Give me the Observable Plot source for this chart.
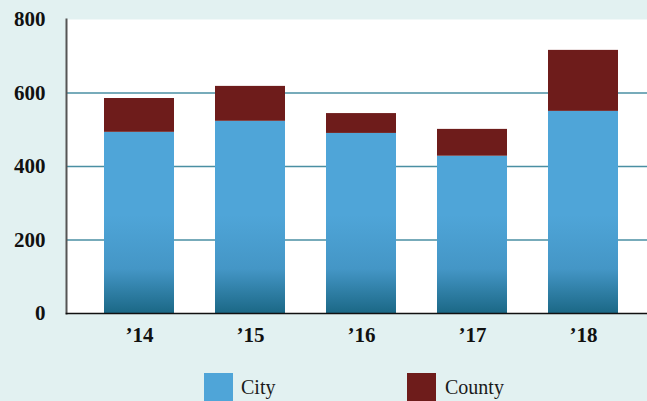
<!DOCTYPE html>
<html>
<head>
<meta charset="utf-8">
<script src="https://cdn.jsdelivr.net/npm/d3@7"></script>
<script src="https://cdn.jsdelivr.net/npm/@observablehq/plot@0.6"></script>
<style>
  html, body { margin: 0; padding: 0; background: #e2f1f1; }
  #wrap { position: relative; width: 647px; height: 401px; overflow: hidden; background: #e2f1f1; }
  #legend { position: absolute; left: 0; top: 373px; width: 647px; height: 30px;
            font-family: "Liberation Serif", serif; font-size: 20px; color: #1a1a1a; }
  .sw { position: absolute; top: 0; width: 29px; height: 29px; }
  .lb { position: absolute; top: 3px; line-height: 22px; }
</style>
</head>
<body>
<div id="wrap"></div>
<script>
const years = ["\u201914", "\u201915", "\u201916", "\u201917", "\u201918"];
const city = [493, 523, 490, 428, 550];
const county = [92, 95, 54, 73, 166];
const seriesNames = ["City", "County"];
const seriesColors = ["url(#cityGrad)", "#6e1c1b"];
const legendColors = ["#4fa5d8", "#6e1c1b"];
const yTicks = [0, 200, 400, 600, 800];

const rows = [];
years.forEach((yr, i) => {
  rows.push({year: yr, series: "City", value: city[i]});
  rows.push({year: yr, series: "County", value: county[i]});
});

const chart = Plot.plot({
  width: 647,
  height: 365,
  marginLeft: 66,
  marginRight: 0,
  marginTop: 19,
  marginBottom: 52,
  style: {fontFamily: "Liberation Serif, serif", fontSize: "21px", background: "transparent", color: "#111"},
  x: {domain: years, range: [66, 656], paddingInner: 0.372, paddingOuter: 0.33},
  y: {domain: [0, 800]},
  color: {domain: seriesNames, range: seriesColors},
  marks: [
    Plot.frame({fill: "white", stroke: null}),
    Plot.ruleY(yTicks.filter(d => d > 0 && d < 800), {stroke: "#4a8fa3", strokeWidth: 1.6}),
    Plot.barY(rows, {x: "year", y: "value", fill: "series", order: seriesNames}),
    Plot.frame({anchor: "left", stroke: "#555", strokeWidth: 2}),
    Plot.frame({anchor: "bottom", stroke: "#111", strokeWidth: 1.6}),
    Plot.axisY({ticks: yTicks, tickSize: 0, tickPadding: 21, label: null, fontWeight: "bold", fill: "#111"}),
    Plot.axisX({tickSize: 0, tickPadding: 14, label: null, fontWeight: "bold", fill: "#111"})
  ]
});

const svg = d3.select(chart.tagName.toLowerCase() === "svg" ? chart : chart.querySelector("svg"));
const grad = svg.insert("defs", ":first-child")
  .append("linearGradient")
  .attr("id", "cityGrad")
  .attr("gradientUnits", "userSpaceOnUse")
  .attr("x1", 0).attr("x2", 0).attr("y1", 215).attr("y2", 313);
grad.append("stop").attr("offset", "0").attr("stop-color", "#4fa5d8");
grad.append("stop").attr("offset", "0.55").attr("stop-color", "#4496c6");
grad.append("stop").attr("offset", "1").attr("stop-color", "#1b6886");

const wrap = document.getElementById("wrap");
wrap.appendChild(chart);

const legend = document.createElement("div");
legend.id = "legend";
const legendX = [[204, 241], [407, 445]];
seriesNames.forEach((name, i) => {
  const sw = document.createElement("div");
  sw.className = "sw";
  sw.style.left = legendX[i][0] + "px";
  sw.style.background = legendColors[i];
  const lb = document.createElement("div");
  lb.className = "lb";
  lb.style.left = legendX[i][1] + "px";
  lb.textContent = name;
  legend.appendChild(sw);
  legend.appendChild(lb);
});
wrap.appendChild(legend);
</script>
</body>
</html>
